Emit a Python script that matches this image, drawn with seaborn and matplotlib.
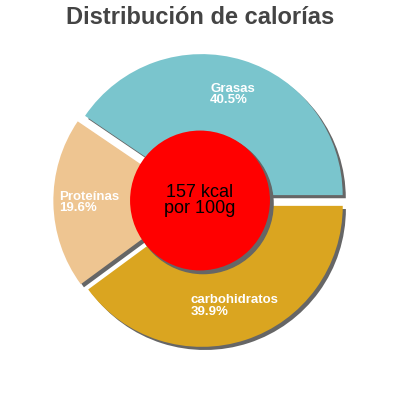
import matplotlib
matplotlib.use("Agg")
import matplotlib.pyplot as plt
import matplotlib.patches as mpatches
import seaborn as sns

categories = ["Grasas", "Proteínas", "carbohidratos"]
percentages = [40.5, 19.6, 39.9]
slice_colors = ["#7AC5CD", "#EEC591", "#DAA520"]
title_text = "Distribución de calorías"
center_text = "157 kcal\npor 100g"

sns.set_theme(style="white")
plt.rcParams["font.family"] = ["Liberation Sans", "DejaVu Sans"]

fig = plt.figure(figsize=(4, 4), dpi=100)
ax = fig.add_axes([0, 0, 1, 1])

labels = [f"{c}\n{p}%" for c, p in zip(categories, percentages)]
shadow_gray = "#666666"
wedges, texts = ax.pie(
    percentages,
    labels=labels,
    colors=slice_colors,
    explode=[0.04] * len(percentages),
    startangle=0,
    counterclock=True,
    labeldistance=0.746,
    radius=1.0,
    shadow={"ox": 0.016, "oy": -0.016, "facecolor": shadow_gray,
            "edgecolor": shadow_gray, "alpha": 1},
    wedgeprops={"linewidth": 0},
    textprops={"color": "white", "fontsize": 9.5, "fontweight": "bold",
               "linespacing": 0.95},
)
for t in texts:
    t.set_horizontalalignment("center")
    t.set_verticalalignment("center")
    t.set_multialignment("left")

circle = mpatches.Circle((0, 0), 0.496, facecolor="red", edgecolor="none", zorder=5)
ax.add_patch(circle)
circ_shadow = mpatches.Shadow(circle, 0.016, -0.016, facecolor=shadow_gray,
                              edgecolor=shadow_gray, alpha=1)
circ_shadow.set_zorder(4.9)
ax.add_patch(circ_shadow)
ax.text(0, 0, center_text, ha="center", va="center", fontsize=13,
        color="black", linespacing=0.95, zorder=6)

s = 141.0
ax.set_xlim(-200 / s, 200 / s)
ax.set_ylim(-199.5 / s, 200.5 / s)
ax.set_aspect("equal", adjustable="datalim")
ax.axis("off")

fig.text(0.5, 1 - 24 / 400, title_text, ha="center", va="baseline",
         fontsize=17, fontweight="bold", color="#444444")

fig.savefig("out.png", dpi=100)
